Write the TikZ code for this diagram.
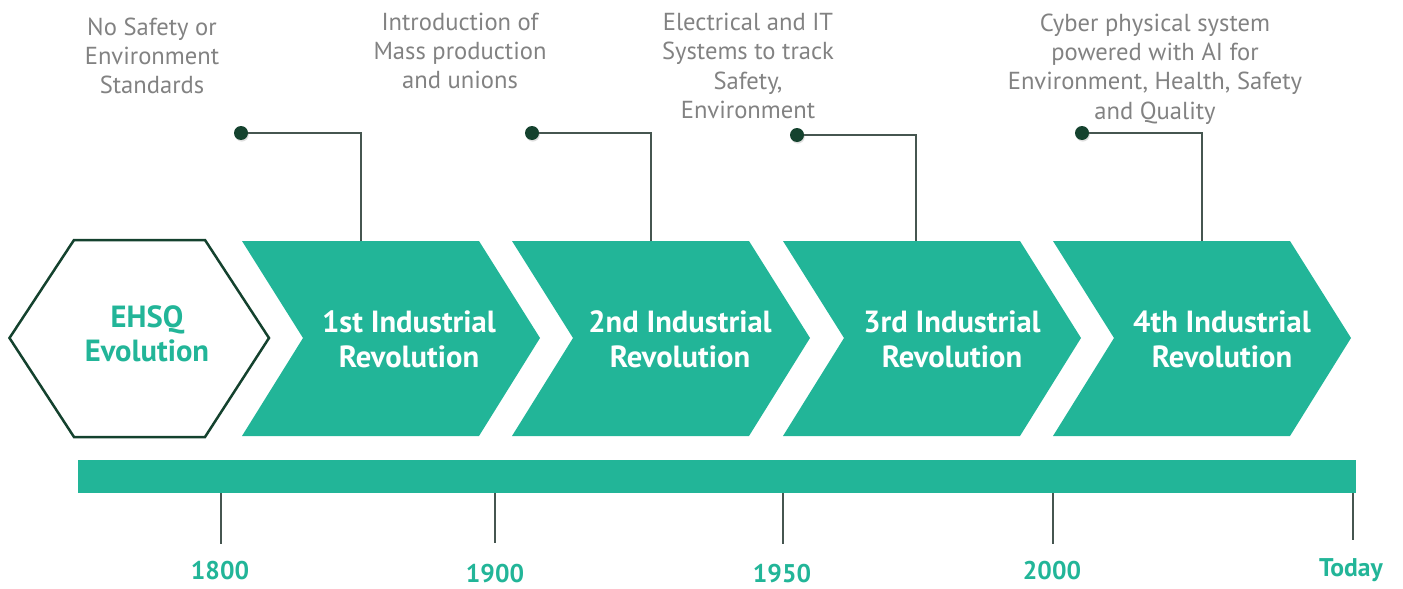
\documentclass[tikz,border=0pt]{standalone}
\usepackage{fontspec}
\setmainfont{PT Sans}
\usetikzlibrary{positioning,shadows}
\definecolor{ehsqteal}{RGB}{34,181,152}
\definecolor{ehsqdark}{RGB}{20,66,46}
\definecolor{notegray}{RGB}{130,130,130}
\definecolor{leadgray}{RGB}{70,86,80}
% one chevron of the timeline, #1 = left edge
\newcommand{\chevron}[1]{\fill[chev] (#1,241) -- ++(237,0) -- ++(61,97) -- ++(-61,98) -- ++(-237,0) -- ++(61,-98) -- cycle;}
\tikzset{
  chev/.style={ehsqteal},
  hexa/.style={draw=ehsqdark,line width=1.25pt,line join=miter},
  chlab/.style={text=white,font=\bfseries\fontsize{15.3}{17.5}\selectfont,align=center,inner sep=0pt},
  hxlab/.style={text=ehsqteal,font=\bfseries\fontsize{15.3}{17}\selectfont,align=center,inner sep=0pt},
  note/.style={text=notegray,font=\fontsize{12.3}{14.6}\selectfont,align=center,inner sep=0pt},
  pin/.style={circle,fill=ehsqdark,inner sep=0pt,minimum size=7pt,drop shadow={shadow xshift=0.4pt,shadow yshift=-0.8pt,opacity=0.25}},
  lead/.style={leadgray,line width=0.6pt},
  yrtick/.style={leadgray,line width=0.6pt},
  yrlab/.style={text=ehsqteal,font=\bfseries\fontsize{12.8}{14}\selectfont,inner sep=0pt}
}
\begin{document}
\begin{tikzpicture}[x=0.5pt,y=-0.5pt]
  \useasboundingbox (0,0) rectangle (1403,589);
  % start hexagon
  \draw[hexa] (9.5,338) -- (74,240) -- (205,240) -- (269,338) -- (205,437) -- (74,437) -- cycle;
  \node[hxlab] (ehsq) at (147,334) {EHSQ\\Evolution};
  % the four revolutions
  \chevron{242} \chevron{512} \chevron{783} \chevron{1053}
  \node[chlab] (ch1) at (409,339) {1st Industrial\\Revolution};
  \node[chlab] (ch2) at (680,339) {2nd Industrial\\Revolution};
  \node[chlab] (ch3) at (952,339) {3rd Industrial\\Revolution};
  \node[chlab] (ch4) at (1222,339) {4th Industrial\\Revolution};
  \coordinate (c1) at (361,241); \coordinate (c2) at (651,241); \coordinate (c3) at (916,241); \coordinate (c4) at (1202,241);
  % callouts
  \node[note] (n1) at (152,56) {No Safety or\\Environment\\Standards};
  \node[note] (n2) at (460,51) {Introduction of\\Mass production\\and unions};
  \node[note] (n3) at (748,66) {Electrical and IT\\Systems to track\\Safety,\\Environment};
  \node[note] (n4) at (1155,69) {Cyber physical system\\powered with AI for\\Environment, Health, Safety\\and Quality};
  \draw[lead] (241,133) -| (c1); \node[pin] (p1) at (241,133) {};
  \draw[lead] (532,133) -| (c2); \node[pin] (p2) at (532,133) {};
  \draw[lead] (797,135) -| (c3); \node[pin] (p3) at (797,135) {};
  \draw[lead] (1082,133) -| (c4); \node[pin] (p4) at (1082,133) {};
  % time bar and years
  \node[fill=ehsqteal,inner sep=0pt,minimum width=639pt,minimum height=16.5pt] (bar) at (717,476.5) {};
  \node[yrlab] (y1800) at (220,571) {1800};
  \node[yrlab] (y1900) at (495,574) {1900};
  \node[yrlab] (y1950) at (782,574) {1950};
  \node[yrlab] (y2000) at (1052,571) {2000};
  \node[yrlab] (ytoday) at (1351,570) {Today};
  \draw[yrtick] (bar.south -| 221,0) -- ++(0,51);
  \draw[yrtick] (bar.south -| 495,0) -- ++(0,50);
  \draw[yrtick] (bar.south -| 783,0) -- ++(0,51);
  \draw[yrtick] (bar.south -| 1053,0) -- ++(0,51);
  \draw[yrtick] (bar.south -| 1353,0) -- ++(0,47);
\end{tikzpicture}
\end{document}
